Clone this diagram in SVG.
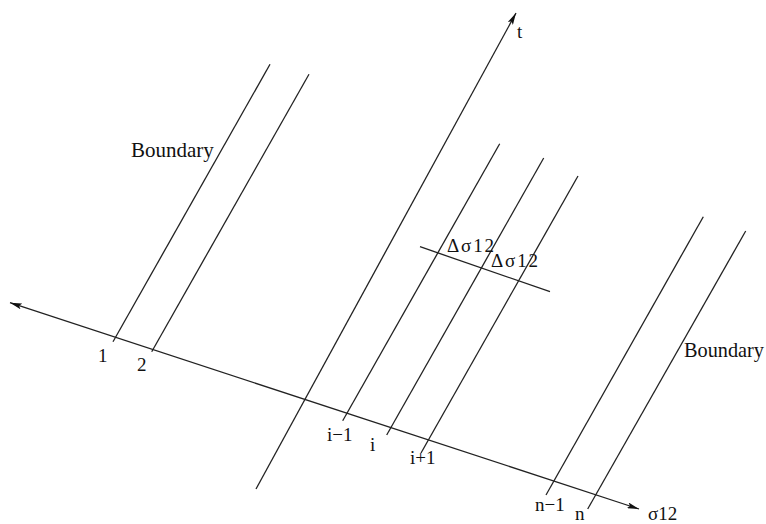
<svg xmlns="http://www.w3.org/2000/svg" width="766" height="524" viewBox="0 0 766 524">
<defs>
<marker id="arr" viewBox="0 0 12 6" refX="12" refY="3" markerWidth="12" markerHeight="6" markerUnits="userSpaceOnUse" orient="auto-start-reverse">
<path d="M0,0 L12,3 L0,6 L2.5,3 z" fill="#111"/>
</marker>
<style>
.ln{stroke:#222;stroke-width:1.3;fill:none}
.lb{font-family:"Liberation Serif","Times New Roman",serif;font-size:19px;fill:#111}
.bd{font-size:21px}
</style>
</defs>
<rect width="766" height="524" fill="#fff"/>
<g id="connectors">
<line id="sigma-axis" class="ln" x1="10" y1="302.7" x2="639" y2="509" marker-start="url(#arr)" marker-end="url(#arr)"/>
<line id="t-axis" class="ln" x1="256" y1="489" x2="516" y2="13" marker-end="url(#arr)"/>
<line id="delta-line" class="ln" x1="420" y1="246.7" x2="550" y2="291.7"/>
</g>
<g id="line-1"><line class="ln" x1="113" y1="341.7" x2="270" y2="64.3"/><text class="lb" x="98" y="361.7">1</text></g>
<g id="line-2"><line class="ln" x1="151.7" y1="351.7" x2="309" y2="74.3"/><text class="lb" x="137" y="370.7">2</text></g>
<g id="line-i-1"><line class="ln" x1="342.7" y1="420.7" x2="499.7" y2="143.7"/><text class="lb" x="327" y="440.7">i−1</text></g>
<g id="line-i"><line class="ln" x1="386.7" y1="435" x2="543.7" y2="158"/><text class="lb" x="370" y="451">i</text></g>
<g id="line-i+1"><line class="ln" x1="421" y1="453" x2="578" y2="176"/><text class="lb" x="410" y="464">i+1</text></g>
<g id="line-n-1"><line class="ln" x1="546" y1="495" x2="703.3" y2="216.7"/><text class="lb" x="535" y="510.7">n−1</text></g>
<g id="line-n"><line class="ln" x1="587.7" y1="509" x2="745.7" y2="231"/><text class="lb" x="575" y="520">n</text></g>
<g id="labels">
<text class="lb bd" x="684" y="356.7" textLength="80" lengthAdjust="spacingAndGlyphs">Boundary</text>
<text class="lb bd" x="131" y="157.3">Boundary</text>
<text class="lb" x="517" y="37.7">t</text>
<text class="lb" x="447" y="251.7" textLength="47" lengthAdjust="spacing">Δσ12</text>
<text class="lb" x="491" y="266.7" textLength="47" lengthAdjust="spacing">Δσ12</text>
<text class="lb" x="648" y="520">σ12</text>
</g>
</svg>
